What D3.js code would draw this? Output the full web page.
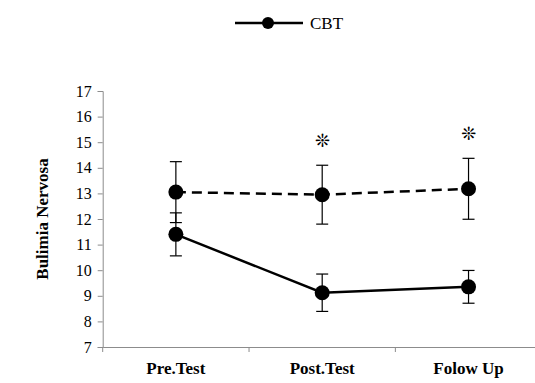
<!doctype html>
<html lang="en">
  <head>
    <style>
      body { margin: 0; background: #fff; }
      svg { display: block; }
      svg text { font-family: "Liberation Serif", "Times New Roman", "DejaVu Serif", serif; }
    </style>
  </head>
  <body>
    <div id="chart"></div>
    <script src="https://d3js.org/d3.v7.min.js"></script>
    <script>
      const phases = ['Pre.Test', 'Post.Test', 'Folow Up']
      const yTicks = [7, 8, 9, 10, 11, 12, 13, 14, 15, 16, 17]

      // CBT group (solid, in legend)
      const cbtMean = [11.4, 9.12, 9.35]
      const cbtErr = [0.84, 0.73, 0.64]
      // other group (dashed)
      const otherMean = [13.05, 12.95, 13.18]
      const otherErr = [1.19, 1.15, 1.19]
      // significance marks
      const starred = ['Post.Test', 'Folow Up']

      const width = 535
      const height = 383
      const margin = { top: 91, left: 102.7 }
      const plotW = 439
      const plotH = 256

      const svg = d3.select('#chart').append('svg')
        .attr('width', width)
        .attr('height', height)

      const x = d3.scaleBand().domain(phases)
        .range([margin.left, margin.left + plotW])
      const y = d3.scaleLinear().domain([7, 17])
        .range([margin.top + plotH, margin.top])
      const cx = d => x(d) + x.bandwidth() / 2

      // y axis
      const yAxis = svg.append('g')
        .attr('transform', `translate(${margin.left},0)`)
        .call(d3.axisLeft(y).tickValues(yTicks).tickSize(5).tickPadding(6))
      yAxis.select('.domain').attr('stroke', '#8c8c8c')
      yAxis.selectAll('.tick line').attr('stroke', '#8c8c8c')
      yAxis.selectAll('.tick text')
        .style('font-size', '16px').attr('fill', '#000')

      // x axis
      const xAxis = svg.append('g')
        .attr('transform', `translate(0,${margin.top + plotH})`)
        .call(d3.axisBottom(x).tickSize(0).tickPadding(15))
      xAxis.select('.domain').attr('stroke', '#8c8c8c')
      xAxis.selectAll('.tick text')
        .style('font-size', '17px').style('font-weight', 'bold').attr('fill', '#000')
      xAxis.selectAll('.sep')
        .data(phases)
        .enter().append('line')
          .attr('stroke', '#8c8c8c')
          .attr('x1', d => x(d)).attr('x2', d => x(d))
          .attr('y1', 0).attr('y2', 5)

      svg.append('text')
        .attr('transform', `translate(48,${margin.top + plotH / 2}) rotate(-90)`)
        .attr('text-anchor', 'middle')
        .style('font-size', '17px').style('font-weight', 'bold')
        .text('Bulimia Nervosa')

      const drawSeries = (means, errs, dash) => {
        const rows = phases.map((p, i) => ({ p, m: means[i], e: errs[i] }))
        const g = svg.append('g')
        const bars = g.selectAll('.err').data(rows).enter().append('g')
        bars.append('line')
          .attr('stroke', '#000').attr('stroke-width', 1.2)
          .attr('x1', d => cx(d.p)).attr('x2', d => cx(d.p))
          .attr('y1', d => y(d.m - d.e)).attr('y2', d => y(d.m + d.e))
        ;['lo', 'hi'].forEach(k => {
          bars.append('line')
            .attr('stroke', '#000').attr('stroke-width', 1.2)
            .attr('x1', d => cx(d.p) - 6).attr('x2', d => cx(d.p) + 6)
            .attr('y1', d => y(k === 'lo' ? d.m - d.e : d.m + d.e))
            .attr('y2', d => y(k === 'lo' ? d.m - d.e : d.m + d.e))
        })
        g.append('path')
          .datum(rows)
          .attr('fill', 'none').attr('stroke', '#000').attr('stroke-width', 2.5)
          .attr('stroke-dasharray', dash)
          .attr('d', d3.line().x(d => cx(d.p)).y(d => y(d.m)))
        g.selectAll('circle').data(rows).enter().append('circle')
          .attr('cx', d => cx(d.p)).attr('cy', d => y(d.m)).attr('r', 7.5)
          .attr('fill', '#000')
      }

      drawSeries(otherMean, otherErr, '10,6')
      drawSeries(cbtMean, cbtErr, null)

      svg.selectAll('.star').data(starred).enter().append('text')
        .attr('x', d => cx(d))
        .attr('y', d => y(otherMean[phases.indexOf(d)] + otherErr[phases.indexOf(d)]) - 25)
        .attr('text-anchor', 'middle')
        .attr('dominant-baseline', 'central')
        .style('font-family', '"DejaVu Sans", sans-serif')
        .style('font-size', '18px')
        .style('font-weight', 'bold')
        .text('❊')

      // legend
      const lg = svg.append('g').attr('transform', 'translate(235,23)')
      lg.append('line').attr('x1', 0).attr('x2', 68).attr('stroke', '#000').attr('stroke-width', 2.5)
      lg.append('circle').attr('cx', 33).attr('r', 6).attr('fill', '#000')
      lg.append('text').attr('x', 75).attr('y', 5.5)
        .style('font-size', '17px').text('CBT')
    </script>
  </body>
</html>
